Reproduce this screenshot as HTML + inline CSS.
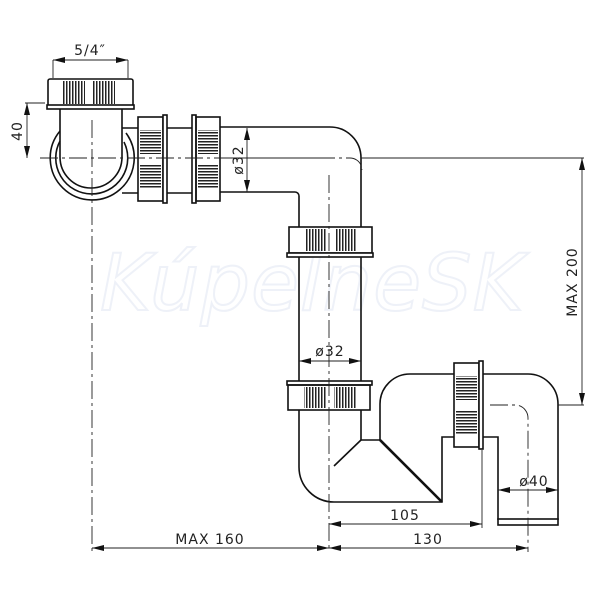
<!DOCTYPE html>
<html><head><meta charset="utf-8"><style>
html,body{margin:0;padding:0;background:#fff}
svg{display:block}
text{font-family:"DejaVu Sans","Liberation Sans",sans-serif;font-size:14px;fill:#222;letter-spacing:1px}
</style></head><body>
<svg width="600" height="600" viewBox="0 0 600 600" xmlns="http://www.w3.org/2000/svg">
<defs>
<marker id="a" markerWidth="12" markerHeight="6" refX="12" refY="3" orient="auto-start-reverse" markerUnits="userSpaceOnUse"><path d="M0,0 L12,3 L0,6 z" fill="#111"/></marker>
<pattern id="rv" width="3" height="10" patternUnits="userSpaceOnUse"><rect width="1.5" height="10" fill="#222"/></pattern>
<pattern id="rh" width="10" height="3" patternUnits="userSpaceOnUse"><rect width="10" height="1.5" fill="#222"/></pattern>
</defs>
<text x="100" y="310" font-size="78" font-style="italic" style="fill:none;stroke:#eef1f8;stroke-width:2;font-size:78px">KúpelneSK</text>
<g fill="none" stroke="#111" stroke-width="1.6">
<!-- top trap cap -->
<rect x="48" y="79" width="85" height="27" rx="2"/>
<rect x="63" y="81" width="22" height="23" fill="url(#rv)" stroke="none"/>
<rect x="93" y="81" width="22" height="23" fill="url(#rv)" stroke="none"/>
<rect x="47" y="105" width="87" height="4" fill="#fff"/>
<path d="M60,131 A42,42 0 1 0 126,133"/>
<path d="M60,141 A36,36 0 1 0 124,142"/>
<path d="M60,109 V157 A31,31 0 0 0 122,157 V109"/>
<path d="M122,128 H138 M122,193 H138"/>
<!-- nuts horizontal -->
<rect x="138" y="117" width="25" height="84"/>
<rect x="140" y="130" width="21" height="24" fill="url(#rh)" stroke="none"/>
<rect x="140" y="164" width="21" height="24" fill="url(#rh)" stroke="none"/>
<rect x="163" y="115" width="4" height="88" fill="#fff"/>
<path d="M167,128 H192 M167,193 H192"/>
<rect x="192" y="115" width="4" height="88" fill="#fff"/>
<rect x="196" y="117" width="24" height="84"/>
<rect x="198" y="130" width="20" height="24" fill="url(#rh)" stroke="none"/>
<rect x="198" y="164" width="20" height="24" fill="url(#rh)" stroke="none"/>
<!-- elbow -->
<path d="M220,127 H330 A31,31 0 0 1 361,158 V227"/>
<path d="M220,192 H295 A4,4 0 0 1 299,196 V227"/>
<!-- middle nut -->
<rect x="289" y="227" width="83" height="26"/>
<rect x="305" y="229" width="22" height="22" fill="url(#rv)" stroke="none"/>
<rect x="335" y="229" width="22" height="22" fill="url(#rv)" stroke="none"/>
<rect x="287" y="253" width="86" height="4" fill="#fff"/>
<path d="M299,257 V382 M361,257 V382"/>
<!-- lower nut -->
<rect x="287" y="381" width="85" height="4" fill="#fff"/>
<rect x="288" y="385" width="82" height="25"/>
<rect x="304" y="387" width="22" height="21" fill="url(#rv)" stroke="none"/>
<rect x="334" y="387" width="22" height="21" fill="url(#rv)" stroke="none"/>
<!-- trap body -->
<path d="M299,410 V467 A35,35 0 0 0 334,502 H442 V437 H454"/>
<path d="M361,410 V440 H380 V404 A30,30 0 0 1 410,374 H454"/>
<path d="M361,440 L334,466"/>
<path d="M380,440 L442,502" stroke-width="2.6"/>
<!-- side nut -->
<rect x="454" y="363" width="25" height="84"/>
<rect x="456" y="376" width="21" height="24" fill="url(#rh)" stroke="none"/>
<rect x="456" y="410" width="21" height="24" fill="url(#rh)" stroke="none"/>
<rect x="479" y="361" width="4" height="88" fill="#fff"/>
<path d="M483,374 H528 A30,30 0 0 1 558,404 V520 M483,437 H498 V520"/>
<rect x="498" y="519" width="60" height="6" fill="#fff"/>
</g>
<!-- center lines -->
<g fill="none" stroke="#222" stroke-width="0.9" stroke-dasharray="18,4,3,4">
<path d="M92,120 V552"/>
<path d="M40,158 H330"/>
<path d="M230,158 H350 A12,12 0 0 1 362,170" />
<path d="M329,175 V552"/>
<path d="M490,405 H515 A13,13 0 0 1 528,418 V552"/>
</g>
<g fill="none" stroke="#222" stroke-width="0.9">
<path d="M25,103 H45"/>
<path d="M361,158 H584"/>
<path d="M558,405 H584"/>
<path d="M53,60 V78 M128,60 V78"/>
<path d="M482,450 V528"/>
<path d="M53,60 H128" marker-start="url(#a)" marker-end="url(#a)"/>
<path d="M27,103 V158" marker-start="url(#a)" marker-end="url(#a)"/>
<path d="M247,128 V192" marker-start="url(#a)" marker-end="url(#a)"/>
<path d="M299,361 H361" marker-start="url(#a)" marker-end="url(#a)"/>
<path d="M582,158 V405" marker-start="url(#a)" marker-end="url(#a)"/>
<path d="M498,490 H558" marker-start="url(#a)" marker-end="url(#a)"/>
<path d="M329,524 H482" marker-start="url(#a)" marker-end="url(#a)"/>
<path d="M92,548 H329" marker-start="url(#a)" marker-end="url(#a)"/>
<path d="M329,548 H528" marker-start="url(#a)" marker-end="url(#a)"/>
</g>
<text x="90" y="55" text-anchor="middle">5/4″</text>
<text transform="translate(22,131) rotate(-90)" text-anchor="middle">40</text>
<text transform="translate(243,160) rotate(-90)" text-anchor="middle">ø32</text>
<text x="330" y="356" text-anchor="middle">ø32</text>
<text transform="translate(577,282) rotate(-90)" text-anchor="middle">MAX 200</text>
<text x="534" y="486" text-anchor="middle">ø40</text>
<text x="405" y="520" text-anchor="middle">105</text>
<text x="210" y="544" text-anchor="middle">MAX 160</text>
<text x="428" y="544" text-anchor="middle">130</text>
</svg>
</body></html>
